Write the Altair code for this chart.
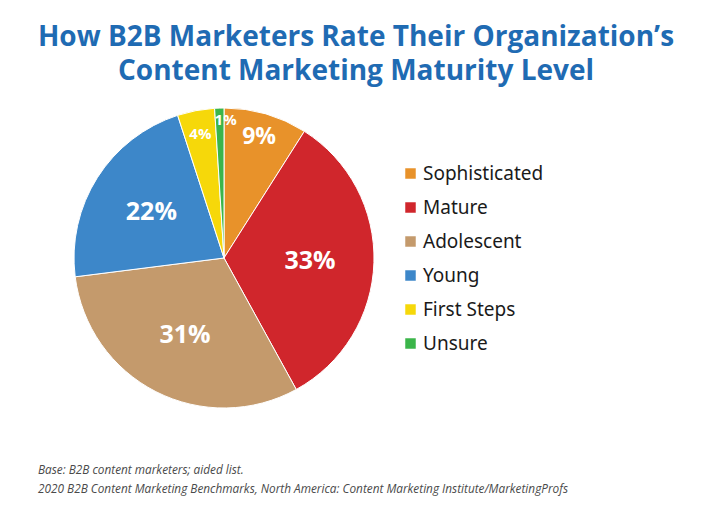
import altair as alt
import pandas as pd

categories = ["Sophisticated", "Mature", "Adolescent", "Young", "First Steps", "Unsure"]
values = [9, 33, 31, 22, 4, 1]
colors = ["#E8922A", "#D0262C", "#C49A6C", "#3D87C9", "#F6D80A", "#3BB54A"]
title_lines = ["How B2B Marketers Rate Their Organization\u2019s", "Content Marketing Maturity Level"]
notes = ["Base: B2B content marketers; aided list.",
         "2020 B2B Content Marketing Benchmarks, North America: Content Marketing Institute/MarketingProfs"]

df = pd.DataFrame({"category": categories, "value": values, "idx": list(range(len(values)))})
df["label"] = df["value"].astype(str) + "%"

CX, CY, R = 216, 250, 150
theta_scale = alt.Scale(domain=[0, 100], range=[0, 6.283185307179586])
color_scale = alt.Scale(domain=categories, range=colors)

base = alt.Chart(df)

arc = base.mark_arc(stroke="white", strokeWidth=1, radius=R).encode(
    theta=alt.Theta("value:Q", stack=True, scale=theta_scale),
    order=alt.Order("idx:Q"),
    color=alt.Color("category:N", scale=color_scale, sort=categories,
                    legend=alt.Legend(title=None, orient="none", legendX=393, legendY=156,
                                      symbolType="square", symbolSize=110, symbolStrokeWidth=0,
                                      labelFontSize=19, labelFont="Noto Sans", labelColor="#1a1a1a",
                                      labelOffset=3, rowPadding=14, symbolOpacity=1)),
    x=alt.value(CX), y=alt.value(CY),
)

lab = base.transform_window(
    cum="sum(value)", sort=[alt.SortField("idx", order="ascending")], frame=[None, 0]
).transform_calculate(mid="datum.cum - datum.value / 2")

def text_layer(cond, r, size, dx=0):
    return lab.transform_filter(cond).mark_text(
        radius=r, fontSize=size, fontWeight="bold", font="Open Sans", color="white",
        align="center", baseline="middle", dx=dx
    ).encode(
        theta=alt.Theta("mid:Q", scale=theta_scale, stack=None),
        text="label:N",
        x=alt.value(CX), y=alt.value(CY),
    )

big = text_layer("datum.value >= 20", 86, 25)
mid = text_layer("datum.value >= 5 && datum.value < 20", 126, 23)
small4 = text_layer("datum.value >= 2 && datum.value < 5", 126, 15)
small1 = text_layer("datum.value < 2", 138, 15, dx=6)

tdf = pd.DataFrame({"t": title_lines, "row": [0, 1]})
title = alt.Chart(tdf).mark_text(
    font="Open Sans", fontSize=28, fontWeight="bold", color="#1F6BB3",
    align="center", baseline="alphabetic"
).encode(text="t:N", x=alt.value(348),
         y=alt.Y("row:Q", scale=alt.Scale(domain=[0, 1], range=[38, 72]), axis=None))

ndf = pd.DataFrame({"t": notes, "row": [0, 1]})
note = alt.Chart(ndf).mark_text(
    font="Open Sans", fontSize=11.8, fontStyle="italic", color="#4a4a4a",
    align="left", baseline="alphabetic"
).encode(text="t:N", x=alt.value(30),
         y=alt.Y("row:Q", scale=alt.Scale(domain=[0, 1], range=[466, 485]), axis=None))

chart = alt.layer(arc, big, mid, small4, small1, title, note).resolve_scale(y="independent").properties(
    width=689, height=492, autosize=alt.AutoSizeParams(type="none"), padding=0
).configure_view(stroke=None)

chart.save("out.html", embed_options={"renderer": "svg", "actions": False})
